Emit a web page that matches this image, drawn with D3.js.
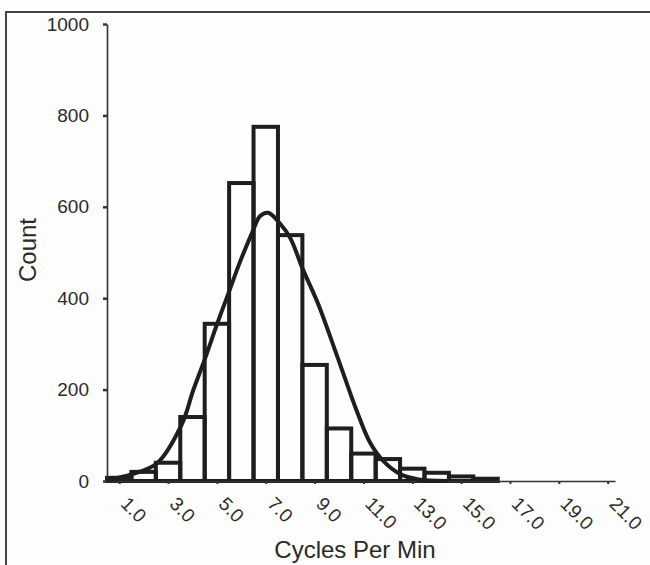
<!DOCTYPE html>
<html>
<head>
<meta charset="utf-8">
<script src="https://cdn.jsdelivr.net/npm/d3@7"></script>
<style>
  html, body { margin: 0; padding: 0; background: #fdfdfd; }
  svg { display: block; }
  text { font-family: "Liberation Sans", Arial, Helvetica, sans-serif; fill: #2a2a2a; }
</style>
</head>
<body>
<svg id="chart" width="650" height="565"></svg>
<script>
// ---- data ----
const binCenters = [1, 2, 3, 4, 5, 6, 7, 8, 9, 10, 11, 12, 13, 14, 15, 16];
const binCounts  = [7, 20, 40, 140, 344, 652, 775, 538, 254, 115, 60, 48, 27, 18, 10, 5];
const curveX = [0.5, 1.52, 2.55, 3.57, 4.02, 4.52, 5.01, 5.46, 5.95, 6.44, 6.77, 7.10, 7.59, 8.0, 8.53, 9.11, 9.64, 10.17, 10.75, 11.28, 11.81, 12.51, 13.2, 14.43];
const curveY = [2, 15, 39, 125, 197, 269, 344, 409, 480, 543, 580, 587, 563, 532, 462, 392, 316, 236, 150, 83, 44, 15, 4, 0];
const xTickValues = [1, 3, 5, 7, 9, 11, 13, 15, 17, 19, 21];
const xTickLabels = ["1.0", "3.0", "5.0", "7.0", "9.0", "11.0", "13.0", "15.0", "17.0", "19.0", "21.0"];
const yTickValues = [0, 200, 400, 600, 800, 1000];
const xTitle = "Cycles Per Min";
const yTitle = "Count";

// ---- scales ----
const svg = d3.select("#chart");
const x = d3.scaleLinear().domain([0.5, 21.3]).range([107, 615]);
const y = d3.scaleLinear().domain([0, 1000]).range([481, 24]);
const ink = "#1e1e1e";

// frame
svg.append("rect")
  .attr("x", 6).attr("y", 12).attr("width", 700).attr("height", 600)
  .attr("fill", "none").attr("stroke", "#444").attr("stroke-width", 2);

// bars
svg.append("g").selectAll("rect")
  .data(binCenters.map((c, i) => ({ c, v: binCounts[i] })))
  .join("rect")
  .attr("x", d => x(d.c - 0.5))
  .attr("width", d => x(d.c + 0.5) - x(d.c - 0.5))
  .attr("y", d => y(d.v))
  .attr("height", d => y(0) - y(d.v))
  .attr("fill", "none")
  .attr("stroke", ink)
  .attr("stroke-width", 4);

// y axis
const yAxis = svg.append("g")
  .attr("transform", `translate(${x(0.5)},0)`)
  .call(d3.axisLeft(y).tickValues(yTickValues).tickSize(4).tickSizeOuter(0).tickPadding(14).tickFormat(d3.format("d")));
yAxis.select(".domain").attr("stroke", "#333").attr("stroke-width", 1.6);
yAxis.selectAll(".tick line").attr("stroke", "#333").attr("stroke-width", 2.5);
yAxis.selectAll(".tick text").attr("font-size", 19).attr("fill", "#2a2a2a")
  .attr("font-family", "Liberation Sans, Arial, sans-serif");

// x axis
const xAxis = svg.append("g")
  .attr("transform", `translate(0,${y(0)})`)
  .call(d3.axisBottom(x).tickValues(xTickValues).tickSize(3).tickSizeOuter(0)
    .tickFormat((d, i) => xTickLabels[i]));
xAxis.select(".domain").attr("stroke", "#333").attr("stroke-width", 1.6);
xAxis.selectAll(".tick line").attr("stroke", "#333").attr("stroke-width", 2);
xAxis.selectAll(".tick text")
  .attr("font-size", 19).attr("fill", "#2a2a2a")
  .attr("font-family", "Liberation Sans, Arial, sans-serif")
  .attr("text-anchor", "start")
  .attr("dy", null)
  .attr("y", 0)
  .attr("transform", "translate(0,24) rotate(45)");

// fitted curve
const line = d3.line()
  .x(d => x(d[0]))
  .y(d => y(d[1]))
  .curve(d3.curveCatmullRom.alpha(0.5));
svg.append("path")
  .datum(curveX.map((v, i) => [v, curveY[i]]))
  .attr("d", line)
  .attr("fill", "none")
  .attr("stroke", ink)
  .attr("stroke-width", 4);

// titles
svg.append("text")
  .attr("x", 355).attr("y", 558)
  .attr("text-anchor", "middle")
  .attr("font-size", 24)
  .text(xTitle);
svg.append("text")
  .attr("transform", "translate(36,250) rotate(-90)")
  .attr("text-anchor", "middle")
  .attr("font-size", 24)
  .text(yTitle);
</script>
</body>
</html>
